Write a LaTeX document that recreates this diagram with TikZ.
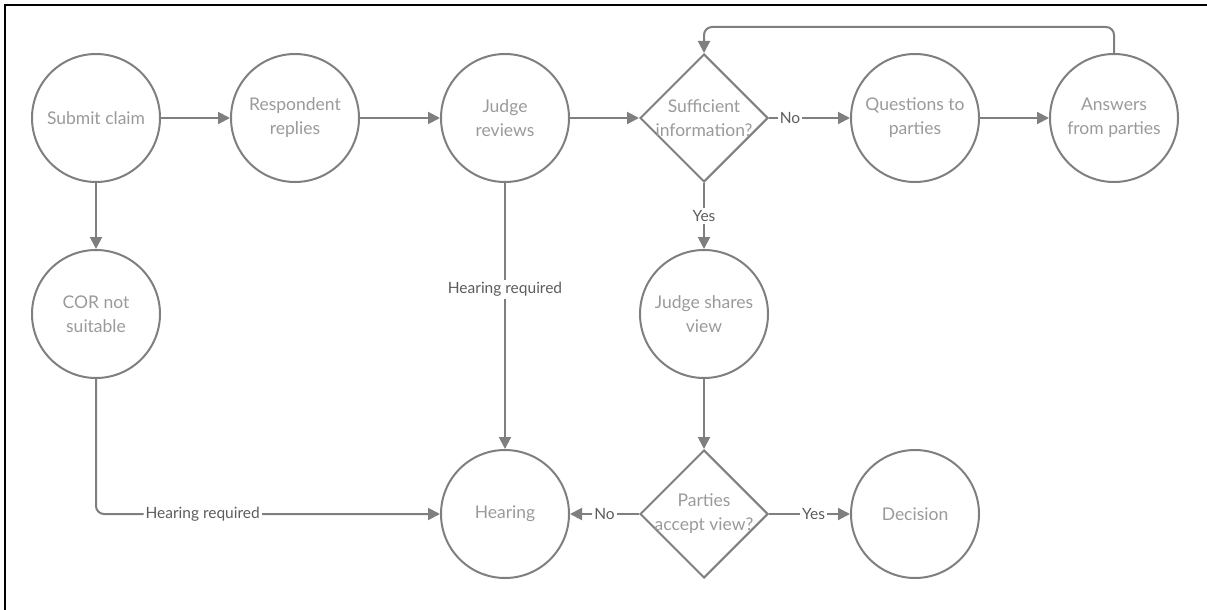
\documentclass[tikz,border=0pt]{standalone}
\usepackage{fontspec}
\setmainfont{Lato}
\usetikzlibrary{shapes.geometric,arrows.meta}

\definecolor{lineGrey}{HTML}{7F7F7F}
\definecolor{textGrey}{HTML}{9A9A9A}
\definecolor{labelGrey}{HTML}{5C5C5C}

\tikzset{
  stage/.style={circle,draw=lineGrey,line width=2pt,minimum size=128pt,inner sep=0pt,
    text=textGrey,font=\fontsize{17.5}{24}\selectfont,align=center},
  decision/.style={diamond,draw=lineGrey,line width=2pt,minimum width=128pt,minimum height=128pt,
    inner sep=0pt},
  dectext/.style={text=textGrey,font=\fontsize{17.5}{24}\selectfont,align=center,inner sep=0pt},
  flow/.style={draw=lineGrey,line width=2pt,-{Triangle[length=12pt,width=12pt]}},
  tag/.style={fill=white,text=labelGrey,font=\fontsize{15.5}{18}\selectfont,inner sep=2pt}
}

\begin{document}
\begin{tikzpicture}[x=1pt,y=-1pt]

    \useasboundingbox (0,0) rectangle (1207,610);
    \draw[line width=2.5pt,black] (5,610) -- (5,5) -- (1207,5);

    % --------------------------------------------------------- %
    % ------------- top row
    % --------------------------------------------------------- %
    \node[stage] (submit) at (96,118) {Submit claim};
    \node[stage] (respond) at (295,118) {Respondent\\replies};
    \node[stage] (review) at (505,118) {Judge\\reviews};
    \node[decision] (suffice) at (704,118) {};
    \node[dectext] (sufficeText) at (suffice) {Sufficient\\information?};
    \node[stage] (questions) at (915,118) {Questions to\\parties};
    \node[stage] (answers) at (1114,118) {Answers\\from parties};

    % --------------------------------------------------------- %
    % ------------- middle and bottom rows
    % --------------------------------------------------------- %
    \node[stage] (unsuited) at (96,314) {COR not\\suitable};
    \node[stage] (shares) at (704,314) {Judge shares\\view};
    \node[stage] (hearing) at (505,514) {Hearing};
    \node[decision] (accept) at (704,514) {};
    \node[dectext] (acceptText) at (accept) {Parties\\accept view?};
    \node[stage] (decision) at (915,514) {Decision};

    % --------------------------------------------------------- %
    % ------------- connectors
    % --------------------------------------------------------- %
    \draw[flow] (submit) -- (respond);
    \draw[flow] (respond) -- (review);
    \draw[flow] (review) -- (suffice.west);
    \draw[flow] (suffice.east) -- node[tag,pos=0.26] {No} (questions);
    \draw[flow] (questions) -- (answers);
    \draw[flow,rounded corners=8pt] (answers.north) -- ++(0,-26) -| (suffice.north);
    \draw[flow] (suffice.south) -- node[tag] {Yes} (shares);
    \draw[flow] (shares) -- (accept.north);
    \draw[flow] (accept.east) -- node[tag,pos=0.55] {Yes} (decision);
    \draw[flow] (accept.west) -- node[tag] {No} (hearing);
    \draw[flow] (review) -- node[tag,pos=0.4] {Hearing required} (hearing);
    \draw[flow] (submit) -- (unsuited);
    \draw[flow,rounded corners=8pt] (unsuited.south) |- node[tag,pos=0.655] {Hearing required} (hearing.west);

\end{tikzpicture}
\end{document}
